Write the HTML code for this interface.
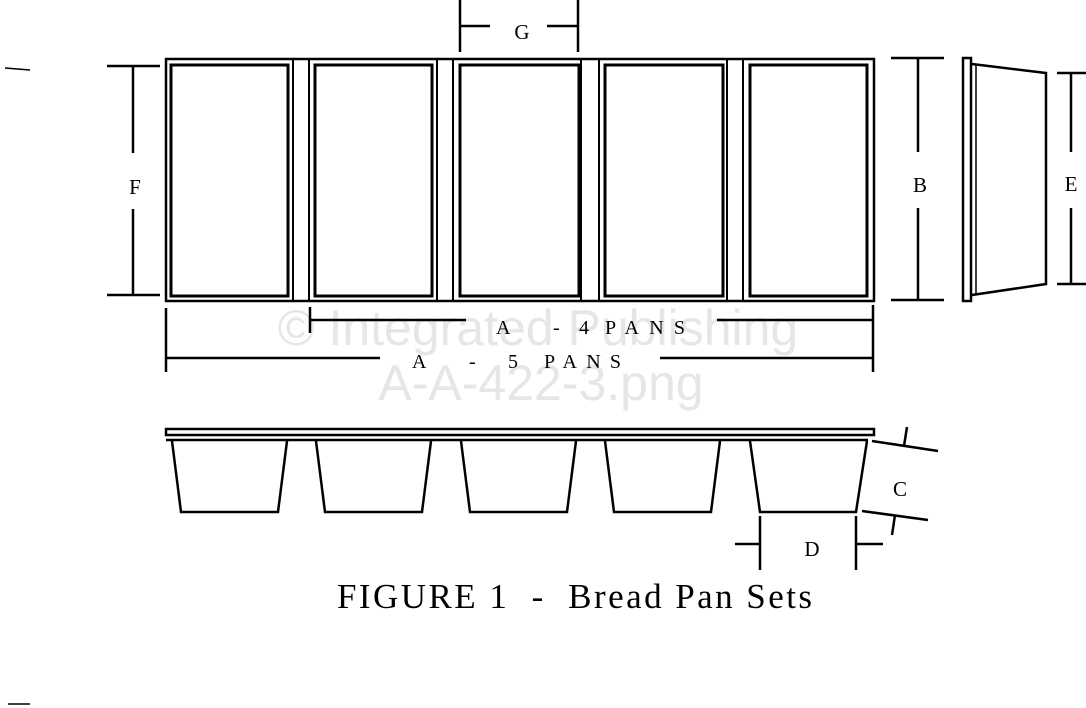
<!DOCTYPE html>
<html><head><meta charset="utf-8"><style>
html,body{margin:0;padding:0;background:#fff;}
svg{display:block;}
.s{font-family:"Liberation Serif",serif;fill:#000;}
.w{font-family:"Liberation Sans",sans-serif;fill:#e6e6e6;}
</style></head><body>
<svg width="1086" height="708" viewBox="0 0 1086 708" xmlns="http://www.w3.org/2000/svg">
<!-- watermark -->
<text class="w" x="538" y="345" font-size="50" text-anchor="middle">© Integrated Publishing</text>
<text class="w" x="541" y="400" font-size="50" text-anchor="middle">A-A-422-3.png</text>
<g fill="none" stroke="#000">
<rect x="166" y="59" width="708" height="242" stroke-width="2.5"/>
<g stroke-width="2">
<line x1="293" y1="59" x2="293" y2="301"/><line x1="309" y1="59" x2="309" y2="301"/>
<line x1="437" y1="59" x2="437" y2="301"/><line x1="453" y1="59" x2="453" y2="301"/>
<line x1="581" y1="59" x2="581" y2="301"/><line x1="599" y1="59" x2="599" y2="301"/>
<line x1="727" y1="59" x2="727" y2="301"/><line x1="743" y1="59" x2="743" y2="301"/>
</g>
<g stroke-width="3">
<rect x="171" y="65" width="117" height="231"/>
<rect x="315" y="65" width="117" height="231"/>
<rect x="460" y="65" width="119" height="231"/>
<rect x="605" y="65" width="118" height="231"/>
<rect x="750" y="65" width="117" height="231"/>
</g>
<g stroke-width="2.5">
<line x1="107" y1="66" x2="160" y2="66"/><line x1="107" y1="295" x2="160" y2="295"/>
<line x1="133" y1="66" x2="133" y2="153"/><line x1="133" y1="209" x2="133" y2="295"/>
<line x1="460" y1="0" x2="460" y2="52"/><line x1="578" y1="0" x2="578" y2="52"/>
<line x1="460" y1="26" x2="490" y2="26"/><line x1="547" y1="26" x2="578" y2="26"/>
<line x1="891" y1="58" x2="944" y2="58"/><line x1="891" y1="300" x2="944" y2="300"/>
<line x1="918" y1="58" x2="918" y2="152"/><line x1="918" y1="208" x2="918" y2="300"/>
<line x1="1057" y1="73" x2="1086" y2="73"/><line x1="1057" y1="284" x2="1086" y2="284"/>
<line x1="1071" y1="73" x2="1071" y2="152"/><line x1="1071" y1="208" x2="1071" y2="284"/>
<line x1="310" y1="307" x2="310" y2="333"/><line x1="310" y1="320" x2="466" y2="320"/>
<line x1="717" y1="320" x2="873" y2="320"/><line x1="873" y1="305" x2="873" y2="372"/>
<line x1="166" y1="308" x2="166" y2="372"/><line x1="166" y1="358" x2="380" y2="358"/>
<line x1="660" y1="358" x2="873" y2="358"/>
</g>
<rect x="963" y="58" width="8" height="243" stroke-width="2.5"/>
<path d="M972 64 L1046 73 L1046 284 L972 295" stroke-width="2.5"/>
<line x1="976" y1="64" x2="976" y2="295" stroke-width="1.5"/>
<rect x="166" y="429" width="708" height="6" stroke-width="2.5"/>
<line x1="166" y1="440" x2="868" y2="440" stroke-width="2.5"/>
<g stroke-width="2.5">
<path d="M172 441 L181 512 L278 512 L287 441"/>
<path d="M316 441 L325 512 L422 512 L431 441"/>
<path d="M461 441 L470 512 L567 512 L576 441"/>
<path d="M605 441 L614 512 L711 512 L720 441"/>
<path d="M750 441 L760 512 L856 512 L867 441"/>
<line x1="872" y1="441" x2="938" y2="451"/><line x1="862" y1="511" x2="928" y2="520"/>
<line x1="907" y1="427" x2="904" y2="446"/><line x1="895" y1="515" x2="892" y2="535"/>
<line x1="760" y1="516" x2="760" y2="570"/><line x1="856" y1="516" x2="856" y2="570"/>
<line x1="735" y1="544" x2="760" y2="544"/><line x1="856" y1="544" x2="883" y2="544"/>
</g>
<g stroke-width="1.5">
<line x1="5" y1="68" x2="30" y2="70"/>
<line x1="8" y1="704" x2="30" y2="704"/>
</g>
</g>
<g class="s" font-size="21" text-anchor="middle">
<text x="522" y="39">G</text>
<text x="135" y="194">F</text>
<text x="920" y="192">B</text>
<text x="1071" y="191">E</text>
<text x="900" y="496">C</text>
<text x="812" y="556">D</text>
</g>
<g class="s" font-size="20">
<text x="496" y="334">A</text><text x="553" y="334">-</text><text x="579" y="334">4</text>
<text x="605" y="334" textLength="80" lengthAdjust="spacing">PANS</text>
<text x="412" y="368">A</text><text x="469" y="368">-</text><text x="508" y="368">5</text>
<text x="544" y="368" textLength="77" lengthAdjust="spacing">PANS</text>
</g>
<text class="s" x="337" y="608" font-size="35" textLength="475" lengthAdjust="spacing" xml:space="preserve">FIGURE 1  -  Bread Pan Sets</text>
</svg>
</body></html>
